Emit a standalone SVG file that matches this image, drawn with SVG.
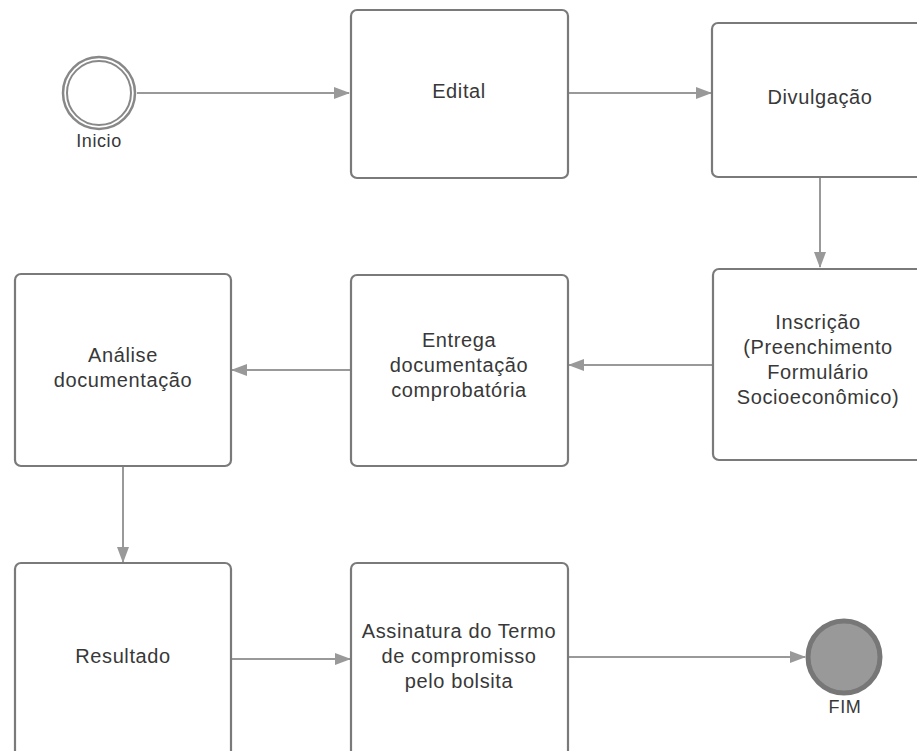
<svg xmlns="http://www.w3.org/2000/svg" width="917" height="751" viewBox="0 0 917 751">
<style>
.box{fill:#fff;stroke:#7a7a7a;stroke-width:2.2}
.t{font-family:"Liberation Sans",Arial,sans-serif;font-size:20px;letter-spacing:0.6px;fill:#383838;text-anchor:middle}
.c{fill:none;stroke:#999;stroke-width:2}
</style>
<defs>
<marker id="ah" markerWidth="16" markerHeight="12" refX="15" refY="6" orient="auto" markerUnits="userSpaceOnUse">
<path d="M0,0 L16,6 L0,12 Z" fill="#999"/>
</marker>
</defs>
<rect width="917" height="751" fill="#fff"/>
<g id="connectors">
<line class="c" x1="137" y1="93" x2="349" y2="93" marker-end="url(#ah)"/>
<line class="c" x1="568" y1="93" x2="711" y2="93" marker-end="url(#ah)"/>
<line class="c" x1="820" y1="178" x2="820" y2="267" marker-end="url(#ah)"/>
<line class="c" x1="713" y1="365" x2="569" y2="365" marker-end="url(#ah)"/>
<line class="c" x1="351" y1="370" x2="232" y2="370" marker-end="url(#ah)"/>
<line class="c" x1="123" y1="466" x2="123" y2="562" marker-end="url(#ah)"/>
<line class="c" x1="231" y1="659" x2="350" y2="659" marker-end="url(#ah)"/>
<line class="c" x1="568" y1="657" x2="805" y2="657" marker-end="url(#ah)"/>
</g>
<g id="inicio">
<circle cx="99" cy="93" r="36" fill="#fff" stroke="#888" stroke-width="2.5"/>
<circle cx="99" cy="93" r="32" fill="none" stroke="#888" stroke-width="2"/>
<text class="t" x="99" y="147" style="font-size:18px">Inicio</text>
</g>
<g id="edital">
<rect class="box" x="351" y="10" width="217" height="168" rx="6"/>
<text class="t" x="459" y="98">Edital</text>
</g>
<g id="divulgacao">
<rect class="box" x="712" y="23" width="220" height="154" rx="6"/>
<text class="t" x="820" y="104">Divulgação</text>
</g>
<g id="inscricao">
<rect class="box" x="713" y="269" width="220" height="191" rx="6"/>
<text class="t" x="818" y="329">Inscrição</text>
<text class="t" x="818" y="354">(Preenchimento</text>
<text class="t" x="818" y="379">Formulário</text>
<text class="t" x="818" y="404">Socioeconômico)</text>
</g>
<g id="entrega">
<rect class="box" x="351" y="275" width="217" height="191" rx="6"/>
<text class="t" x="459" y="347">Entrega</text>
<text class="t" x="459" y="372">documentação</text>
<text class="t" x="459" y="397">comprobatória</text>
</g>
<g id="analise">
<rect class="box" x="15" y="274" width="216" height="192" rx="6"/>
<text class="t" x="123" y="362">Análise</text>
<text class="t" x="123" y="387">documentação</text>
</g>
<g id="resultado">
<rect class="box" x="15" y="563" width="216" height="200" rx="6"/>
<text class="t" x="123" y="663">Resultado</text>
</g>
<g id="assinatura">
<rect class="box" x="351" y="563" width="217" height="200" rx="6"/>
<text class="t" x="459" y="638">Assinatura do Termo</text>
<text class="t" x="459" y="663">de compromisso</text>
<text class="t" x="459" y="688">pelo bolsita</text>
</g>
<g id="fim">
<circle cx="844" cy="657" r="36" fill="#999" stroke="#777" stroke-width="5"/>
<text class="t" x="845" y="713" style="font-size:18px">FIM</text>
</g>
</svg>
